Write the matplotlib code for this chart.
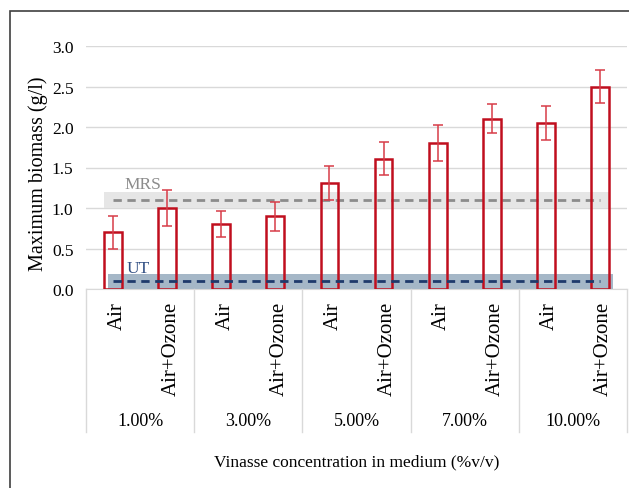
import matplotlib
matplotlib.use("Agg")
import matplotlib.pyplot as plt
from matplotlib.patches import Rectangle
import matplotlib.transforms as mtransforms

plt.rcParams['font.family'] = ['Liberation Serif', 'DejaVu Serif']

# data
concentrations = ['1.00%', '3.00%', '5.00%', '7.00%', '10.00%']
treatments = ['Air', 'Air+Ozone']
biomass = [0.70, 1.00, 0.80, 0.90, 1.31, 1.61, 1.80, 2.10, 2.05, 2.50]
biomass_err = [0.20, 0.22, 0.16, 0.18, 0.21, 0.20, 0.22, 0.18, 0.21, 0.20]
mrs_level, mrs_band = 1.1, (1.0, 1.2)
ut_level, ut_band = 0.1, (0.0, 0.18)

W, H = 629, 489
fig = plt.figure(figsize=(W / 100, H / 100), dpi=100)
ax = fig.add_axes([86 / W, 1 - 290 / H, (627 - 86) / W, (290 - 47) / H])

n = len(biomass)
xs = list(range(n))

# reference bands and lines
ax.fill_between([-0.167, 9.167], mrs_band[0], mrs_band[1], color='#e6e6e6', zorder=1, lw=0)
ax.plot([0, 9], [mrs_level] * 2, ls=(0, (3, 2)), color='#8c8c8c', lw=2, zorder=2)
ax.fill_between([-0.1, 9.24], ut_band[0], ut_band[1], color='#a5b7c7', zorder=1, lw=0)
ax.plot([0, 9], [ut_level] * 2, ls=(0, (3, 2)), color='#1f3a6b', lw=2, zorder=4)
ax.text(0.22, mrs_band[1] + 0.0, 'MRS', color='#8c8c8c', fontsize=12.5, va='bottom', ha='left')
ax.text(0.25, ut_band[1] - 0.02, 'UT', color='#2f4d82', fontsize=12.5, va='bottom', ha='left')

ax.bar(xs, biomass, width=0.33, facecolor='none', edgecolor='#c00f1e', lw=1.8, zorder=3)
ax.errorbar(xs, biomass, yerr=biomass_err, fmt='none', ecolor='#d73c48', elinewidth=1.1,
            capsize=3.5, capthick=1.1, zorder=5)

ax.set_xlim(-0.5, n - 0.5)
ax.set_ylim(0, 3)
ax.set_yticks([0, 0.5, 1.0, 1.5, 2.0, 2.5, 3.0])
ax.set_yticklabels([f'{v:.1f}' for v in ax.get_yticks()], fontsize=12.5)
ax.tick_params(axis='y', length=0, pad=9)
ax.set_xticks([])
ax.grid(axis='y', color='#d9d9d9', lw=1)
ax.set_axisbelow(True)
for s in ['top', 'right', 'left']:
    ax.spines[s].set_visible(False)
ax.spines['bottom'].set_color('#d9d9d9')
ax.set_ylabel('Maximum biomass (g/l)', fontsize=14.5, va='center')
ax.yaxis.set_label_coords(-0.088, 0.48)

# two-level category axis
trans = mtransforms.blended_transform_factory(ax.transData, ax.transAxes)
for k in range(len(concentrations) + 1):
    xe = 2 * k - 0.5
    ax.plot([xe, xe], [0, -0.588], transform=trans, color='#d9d9d9', lw=1, clip_on=False)
for i, x in enumerate(xs):
    ax.text(x + 0.07, -0.05, treatments[i % 2], transform=trans, rotation=90,
            ha='center', va='top', fontsize=15)
for k, c in enumerate(concentrations):
    ax.text(2 * k + 0.5, -0.543, c, transform=trans, ha='center', va='center', fontsize=13)
ax.text(4.5, -0.708, 'Vinasse concentration in medium (%v/v)', transform=trans,
        ha='center', va='center', fontsize=12.5)

# chart frame
fig.patches.append(Rectangle((10 / W, -0.1), 1.2, 1 - 12 / H + 0.1, transform=fig.transFigure,
                             fill=False, edgecolor='#404040', lw=1.2))

fig.savefig('out.png', dpi=100)
